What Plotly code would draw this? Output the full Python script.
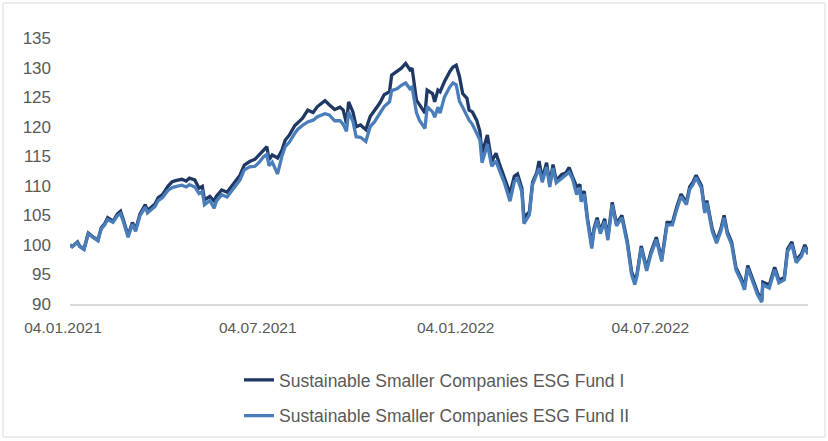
import plotly.graph_objects as go

dates = [
    "2021-01-04", "2021-01-06", "2021-01-11", "2021-01-13", "2021-01-17", "2021-01-21", "2021-01-25", "2021-01-30",
    "2021-02-02", "2021-02-05", "2021-02-08", "2021-02-13", "2021-02-17", "2021-02-20", "2021-02-23", "2021-02-27",
    "2021-03-03", "2021-03-06", "2021-03-10", "2021-03-15", "2021-03-17", "2021-03-21", "2021-03-24", "2021-03-27",
    "2021-03-31", "2021-04-05", "2021-04-09", "2021-04-13", "2021-04-18", "2021-04-22", "2021-04-25", "2021-04-30",
    "2021-05-04", "2021-05-07", "2021-05-09", "2021-05-14", "2021-05-18", "2021-05-20", "2021-05-25", "2021-05-30",
    "2021-06-04", "2021-06-11", "2021-06-15", "2021-06-20", "2021-06-25", "2021-06-29", "2021-07-03", "2021-07-06",
    "2021-07-08", "2021-07-11", "2021-07-16", "2021-07-20", "2021-07-23", "2021-07-27", "2021-08-01", "2021-08-04",
    "2021-08-08", "2021-08-13", "2021-08-18", "2021-08-22", "2021-08-29", "2021-09-02", "2021-09-07", "2021-09-12",
    "2021-09-15", "2021-09-18", "2021-09-20", "2021-09-24", "2021-09-27", "2021-10-01", "2021-10-06", "2021-10-10",
    "2021-10-14", "2021-10-19", "2021-10-23", "2021-10-28", "2021-10-30", "2021-11-04", "2021-11-08", "2021-11-12",
    "2021-11-16", "2021-11-18", "2021-11-22", "2021-11-25", "2021-11-30", "2021-12-02", "2021-12-07", "2021-12-09",
    "2021-12-12", "2021-12-14", "2021-12-18", "2021-12-23", "2021-12-26", "2021-12-29", "2022-01-01", "2022-01-04",
    "2022-01-08", "2022-01-10", "2022-01-13", "2022-01-17", "2022-01-20", "2022-01-22", "2022-01-27", "2022-01-31",
    "2022-02-04", "2022-02-07", "2022-02-12", "2022-02-17", "2022-02-21", "2022-02-24", "2022-02-28", "2022-03-02",
    "2022-03-07", "2022-03-10", "2022-03-14", "2022-03-16", "2022-03-19", "2022-03-23", "2022-03-26", "2022-03-29",
    "2022-04-01", "2022-04-06", "2022-04-10", "2022-04-13", "2022-04-16", "2022-04-20", "2022-04-23", "2022-04-24",
    "2022-04-27", "2022-04-30", "2022-05-04", "2022-05-06", "2022-05-09", "2022-05-12", "2022-05-16", "2022-05-19",
    "2022-05-23", "2022-05-27", "2022-06-01", "2022-06-06", "2022-06-10", "2022-06-13", "2022-06-15", "2022-06-19",
    "2022-06-24", "2022-06-28", "2022-07-03", "2022-07-08", "2022-07-13", "2022-07-18", "2022-07-22", "2022-07-26",
    "2022-07-31", "2022-08-03", "2022-08-06", "2022-08-09", "2022-08-14", "2022-08-17", "2022-08-19", "2022-08-24",
    "2022-08-28", "2022-09-01", "2022-09-04", "2022-09-07", "2022-09-11", "2022-09-15", "2022-09-20", "2022-09-23",
    "2022-09-26", "2022-09-30", "2022-10-05", "2022-10-09", "2022-10-10", "2022-10-16", "2022-10-21", "2022-10-22",
    "2022-10-25", "2022-10-30", "2022-11-02", "2022-11-06", "2022-11-10", "2022-11-15", "2022-11-18", "2022-11-21",
]

fund_1 = [
    100.0, 99.7, 100.5, 99.8, 99.3, 102.0, 101.4, 100.8,
    102.9, 103.5, 104.6, 104.0, 105.2, 105.7, 104.0, 101.6,
    103.8, 102.6, 105.2, 106.8, 105.8, 106.4, 106.9, 108.0,
    108.5, 109.9, 110.7, 110.9, 111.1, 110.8, 111.3, 111.0,
    109.6, 109.9, 107.6, 108.2, 107.4, 108.2, 109.3, 108.9,
    110.1, 111.8, 113.5, 114.1, 114.5, 115.3, 116.1, 116.6,
    114.4, 115.2, 114.7, 116.0, 117.7, 118.6, 120.2, 120.8,
    121.4, 122.8, 122.4, 123.4, 124.4, 123.7, 122.9, 123.3,
    122.8, 120.5, 124.2, 122.5, 120.0, 120.3, 119.5, 121.7,
    122.8, 124.0, 125.4, 125.9, 128.7, 129.3, 129.9, 130.7,
    129.6, 129.9, 124.5, 123.7, 122.3, 126.2, 125.6, 124.2,
    126.2, 125.9, 127.6, 129.3, 130.1, 130.4, 128.5, 125.6,
    124.8, 122.8, 122.5, 121.1, 119.2, 115.5, 118.6, 114.1,
    115.5, 113.8, 111.3, 108.7, 111.6, 112.0, 109.6, 104.6,
    105.6, 110.6, 112.3, 114.2, 111.2, 113.9, 110.3, 113.6,
    110.9, 111.9, 112.2, 113.1, 111.6, 109.8, 110.2, 108.0,
    109.1, 104.5, 99.9, 102.7, 104.6, 102.3, 104.4, 101.3,
    107.2, 103.6, 105.0, 100.6, 95.5, 94.0, 95.0, 99.8,
    96.0, 98.8, 101.3, 97.6, 103.8, 103.8, 106.4, 108.6,
    107.2, 109.8, 110.6, 111.8, 110.0, 105.8, 107.5, 102.7,
    100.7, 102.7, 105.0, 102.2, 100.5, 96.2, 94.3, 92.9,
    96.5, 94.5, 92.0, 90.6, 93.7, 93.2, 96.2, 95.7,
    94.0, 94.5, 99.3, 100.5, 97.4, 98.5, 100.0, 98.8,
]

fund_2 = [
    100.0, 99.7, 100.4, 99.7, 99.2, 101.9, 101.3, 100.7,
    102.7, 103.3, 104.3, 103.8, 104.9, 105.3, 103.7, 101.3,
    103.5, 102.3, 104.9, 106.4, 105.4, 106.0, 106.5, 107.5,
    108.0, 109.2, 109.7, 109.9, 110.1, 109.8, 110.2, 109.8,
    108.7, 109.0, 106.8, 107.5, 106.2, 107.4, 108.5, 108.1,
    109.4, 111.0, 112.7, 113.2, 113.3, 114.0, 114.9, 115.3,
    113.4, 114.0, 112.0, 115.0, 116.6, 117.4, 118.9, 119.6,
    120.2, 120.8, 121.1, 121.7, 122.2, 122.0, 121.0, 121.0,
    120.4, 119.2, 122.5, 120.9, 118.3, 118.2, 117.5, 120.0,
    120.8, 122.4, 123.4, 124.2, 126.1, 126.4, 127.0, 127.4,
    126.4, 126.7, 122.4, 121.0, 119.7, 123.4, 122.5, 121.6,
    123.3, 122.3, 125.0, 126.7, 127.4, 127.1, 124.3, 123.3,
    121.9, 121.1, 120.4, 119.0, 117.8, 113.9, 117.0, 113.3,
    114.2, 112.7, 110.4, 107.4, 110.7, 111.2, 109.0, 103.6,
    105.1, 110.2, 111.9, 113.0, 110.6, 113.2, 109.8, 113.0,
    110.5, 111.2, 111.8, 112.3, 111.2, 108.5, 109.7, 107.3,
    108.6, 104.1, 99.4, 102.3, 104.2, 101.9, 104.0, 100.8,
    106.8, 103.2, 104.6, 100.2, 95.0, 93.3, 94.7, 99.5,
    95.6, 98.4, 100.9, 97.2, 103.4, 103.4, 106.0, 108.2,
    106.8, 109.4, 110.2, 111.4, 109.6, 105.4, 107.1, 102.3,
    100.3, 102.3, 104.6, 101.8, 100.1, 95.8, 93.9, 92.4,
    96.1, 94.1, 91.6, 90.3, 93.3, 92.7, 95.8, 95.3,
    93.6, 94.1, 98.9, 100.1, 97.0, 98.1, 99.6, 98.4,
]

series_names = [
    "Sustainable Smaller Companies ESG Fund I",
    "Sustainable Smaller Companies ESG Fund II",
]

tick_dates = ["2021-01-04", "2021-07-04", "2022-01-04", "2022-07-04"]
tick_labels = ["04.01.2021", "04.07.2021", "04.01.2022", "04.07.2022"]
y_ticks = [90, 95, 100, 105, 110, 115, 120, 125, 130, 135]

FONT = "Liberation Sans, Arial, sans-serif"
TEXT = "#595959"

fig = go.Figure()
fig.add_trace(go.Scatter(
    x=dates, y=fund_1, mode="lines", name=series_names[0],
    line=dict(color="#1F3864", width=3.3), legendgroup="a",
))
fig.add_trace(go.Scatter(
    x=dates, y=fund_2, mode="lines", name=series_names[1],
    line=dict(color="#4A7EBB", width=3.3), legendgroup="b",
))

fig.update_layout(
    width=828, height=441,
    margin=dict(l=70, r=20, t=38, b=137, autoexpand=False),
    paper_bgcolor="white", plot_bgcolor="white",
    font=dict(family=FONT, size=17, color=TEXT),
    showlegend=True,
    legend=dict(
        xref="container", yref="container",
        x=239 / 828, xanchor="left", y=(441 - 362) / 441, yanchor="top",
        traceorder="grouped", tracegroupgap=10,
        font=dict(family=FONT, size=17.5, color=TEXT),
        bgcolor="rgba(0,0,0,0)",
    ),
    xaxis=dict(
        type="date", automargin=False,
        range=[dates[0], dates[-1]],
        tickvals=tick_dates, ticktext=tick_labels,
        showgrid=False, zeroline=False,
        showline=True, linecolor="#D9D9D9", linewidth=2,
        ticks="", ticklabelstandoff=8, ticklabelshift=-7,
        tickfont=dict(family=FONT, size=15.5, color=TEXT),
    ),
    yaxis=dict(
        range=[90, 135], tickvals=y_ticks, automargin=False,
        showgrid=False, zeroline=False, showline=False,
        ticks="", ticklabelstandoff=18,
        tickfont=dict(family=FONT, size=17, color=TEXT),
    ),
    shapes=[dict(
        type="rect", xref="paper", yref="paper",
        x0=-67 / 738, x1=755 / 738, y0=-133 / 266, y1=(266 + 35) / 266,
        line=dict(color="#D9D9D9", width=1), fillcolor="rgba(0,0,0,0)",
        layer="below",
    )],
)

fig.write_html(
    "out.html",
    config={"displayModeBar": False},
    post_script="document.body.style.margin='0';document.body.style.overflow='hidden';",
)
